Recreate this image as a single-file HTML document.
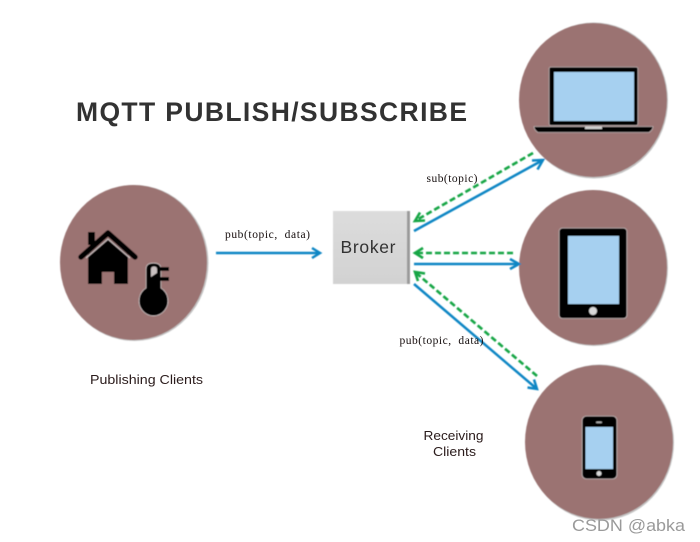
<!DOCTYPE html>
<html><head><meta charset="utf-8"><style>
html,body{margin:0;padding:0;background:#fff}
svg{display:block}
</style></head><body>
<svg width="700" height="542" viewBox="0 0 700 542" xmlns="http://www.w3.org/2000/svg">
<defs>
<filter id="b" x="-5%" y="-5%" width="110%" height="110%"><feGaussianBlur stdDeviation="0.4"/></filter>
<filter id="t" x="-5%" y="-20%" width="110%" height="140%"><feGaussianBlur stdDeviation="0.25"/></filter>
<linearGradient id="g" x1="0" y1="0" x2="0" y2="1"><stop offset="0" stop-color="#dcdcdc"/><stop offset="1" stop-color="#d2d2d2"/></linearGradient>
</defs>
<rect width="700" height="542" fill="#fff"/>
<g filter="url(#b)">
<g fill="#c4c4c4">
<ellipse cx="134.500" cy="263" rx="74" ry="78"/>
<ellipse cx="594" cy="100.500" rx="74" ry="78"/>
<ellipse cx="594" cy="268" rx="74" ry="78"/>
<ellipse cx="600" cy="442.500" rx="74" ry="78"/>
</g>
<g fill="#9b7372">
<ellipse cx="133.500" cy="262.500" rx="73.500" ry="77.500"/>
<ellipse cx="593" cy="100" rx="74" ry="77"/>
<ellipse cx="593" cy="267.500" rx="74" ry="77.500"/>
<ellipse cx="599" cy="442" rx="74" ry="77"/>
</g>
<rect x="88" y="232" width="7" height="13" fill="#000"/>
<path d="M88 255 L108 238 L128 255 V284 H114 V272 H102 V284 H88 Z" fill="#000"/>
<path d="M81 257 L108 233 L135 257" fill="none" stroke="#000" stroke-width="5.500" stroke-linecap="round" stroke-linejoin="round"/>
<path d="M86 258 L108 239 L130 258" fill="none" stroke="#c9bcbc" stroke-width="1.300"/>
<path d="M146 288 V269 Q146 263 153.500 263 Q161 263 161 269 V288 A14.500 15 0 1 1 146 288 Z" fill="#000" stroke="#cfc6c6" stroke-width=".7"/>
<rect x="160" y="267" width="9" height="4" fill="#000"/>
<rect x="160" y="277" width="9" height="4" fill="#000"/>
<path d="M151 277 V269 Q151 266.500 154 266.500 Q157 266.500 157 269 V273 Z" fill="#c8c0c0"/>
<rect x="549" y="67" width="89" height="58.500" rx="2" fill="#000" stroke="#b9adad" stroke-width=".8"/>
<rect x="554" y="72" width="80" height="49" fill="#a6d0f0"/>
<path d="M534 126.500 H653 Q653 130 649 132.500 H538 Q534 130 534 126.500 Z" fill="#000" stroke="#b9adad" stroke-width=".8"/>
<rect x="585" y="126.500" width="17" height="2.500" fill="#cfcfcf"/>
<rect x="559" y="228" width="68" height="90.500" rx="3.500" fill="#000" stroke="#c0b4b4" stroke-width=".8"/>
<rect x="568" y="236" width="51" height="68" fill="#a6d0f0"/>
<circle cx="593" cy="311" r="4" fill="#d8d8d8"/>
<rect x="582" y="416" width="35" height="63" rx="4.500" fill="#000" stroke="#c0b4b4" stroke-width=".8"/>
<rect x="585.500" y="427" width="27.500" height="42" fill="#a6d0f0"/>
<circle cx="599" cy="473.500" r="2.500" fill="#d8d8d8"/>
<rect x="596" y="421.500" width="6" height="1.800" rx=".9" fill="#aaa"/>
<rect x="333" y="211" width="77" height="73" fill="url(#g)"/>
<rect x="407" y="211" width="3" height="73" fill="#9a9a9a"/>
<g fill="none" stroke="#0f86c4" stroke-width="2.500">
<path d="M216 253 H320"/><path d="M312 248 L320 253 L312 258"/>
<path d="M414 231 L543 160"/><path d="M532 160.500 L543 160 L537.500 169.500"/>
<path d="M414 264 H519"/><path d="M510 259 L519 264 L510 269"/>
<path d="M414 284 L537 389"/><path d="M527.500 387.500 L537 389 L534 379.500"/>
</g>
<g fill="none" stroke="#12a544" stroke-width="2.600">
<path d="M533 153 L415 221" stroke-dasharray="6 3"/><path d="M425 220.500 L415 221 L420 212.500"/>
<path d="M513 253 H415" stroke-dasharray="6 3"/><path d="M423 248 L415 253 L423 258"/>
<path d="M537 376 L415 272" stroke-dasharray="6 3"/><path d="M418 281 L415 272 L425 273.500"/>
</g>
</g>
<g filter="url(#t)">
<text x="76" y="121" font-family="Liberation Sans,sans-serif" font-size="26.500" font-weight="700" fill="#333" textLength="391" lengthAdjust="spacing">MQTT PUBLISH/SUBSCRIBE</text>
<text x="340.500" y="253" font-family="Liberation Sans,sans-serif" font-size="17.500" fill="#333" textLength="55" lengthAdjust="spacing">Broker</text>
<g font-family="Liberation Serif,serif" font-size="11.500" fill="#140c0c">
<text x="225" y="238" textLength="85" lengthAdjust="spacing" xml:space="preserve">pub(topic,  data)</text>
<text x="426.500" y="182" textLength="51" lengthAdjust="spacing">sub(topic)</text>
<text x="399.500" y="344" textLength="84" lengthAdjust="spacing" xml:space="preserve">pub(topic,  data)</text>
</g>
<g font-family="Liberation Sans,sans-serif" font-size="12.500" fill="#2a1a1a">
<text x="90" y="384" textLength="113" lengthAdjust="spacingAndGlyphs">Publishing Clients</text>
<text x="423.500" y="440" textLength="60" lengthAdjust="spacingAndGlyphs">Receiving</text>
<text x="433" y="456" textLength="43" lengthAdjust="spacingAndGlyphs">Clients</text>
</g>
</g>
<text x="572" y="531" font-family="Liberation Sans,sans-serif" font-size="17" fill="#9a9a9a" textLength="113" lengthAdjust="spacingAndGlyphs">CSDN @abka</text>
</svg>
</body></html>
